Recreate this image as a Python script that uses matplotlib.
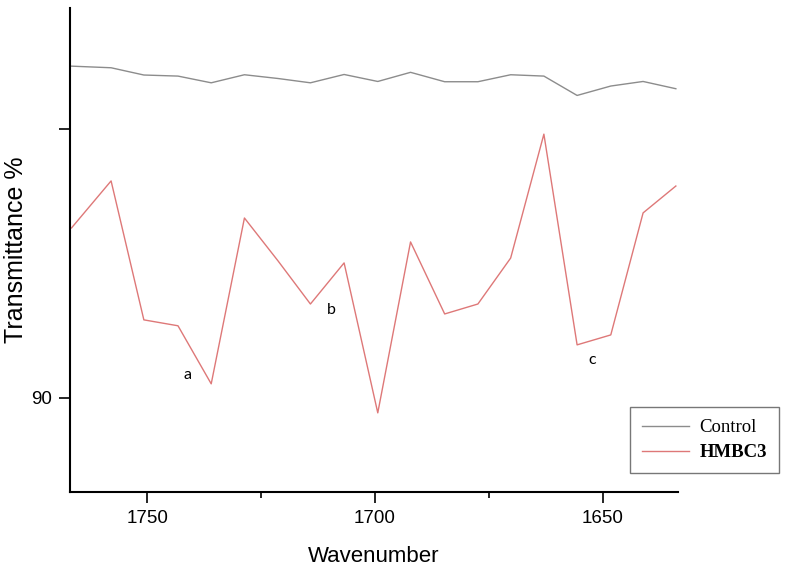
import matplotlib.pyplot as plt

wavenumber = [1766.7, 1758.0, 1750.8, 1743.3, 1736.0, 1728.7, 1721.3, 1714.2, 1706.8, 1699.4,
              1692.2, 1684.7, 1677.4, 1670.2, 1662.9, 1655.6, 1648.2, 1641.1, 1633.9]
control = [102.34, 102.28, 102.01, 101.97, 101.72, 102.02, 101.88, 101.72, 102.03, 101.77,
           102.11, 101.76, 101.76, 102.02, 101.97, 101.25, 101.60, 101.77, 101.50]
hmbc3 = [96.32, 98.07, 92.90, 92.68, 90.52, 96.69, 95.09, 93.49, 95.02, 89.44,
         95.80, 93.12, 93.49, 95.20, 99.81, 91.97, 92.34, 96.88, 97.88]

peak_labels = ['a', 'b', 'c']
peak_x = [1741.2, 1709.6, 1652.2]
peak_y = [90.86, 93.27, 91.41]

fig = plt.figure(figsize=(7.88, 5.78), dpi=100)
ax = fig.add_axes([0.089, 0.149, 0.771, 0.837])

l1, = ax.plot(wavenumber, control, color='#8c8c8c', lw=1.0)
l2, = ax.plot(wavenumber, hmbc3, color='#de7878', lw=1.0)

for lab, x, y in zip(peak_labels, peak_x, peak_y):
    ax.text(x, y, lab, fontsize=11.5, family='Lato', ha='center', va='center')

ax.set_xlim(1767, 1633.5)
ax.set_ylim(86.5, 104.5)
ax.set_xticks([1750, 1700, 1650])
ax.set_xticks([1725, 1675], minor=True)
ax.set_yticks([90, 100])
ax.set_yticklabels(['90', ''])

for side in ['top', 'right']:
    ax.spines[side].set_visible(False)
for side in ['left', 'bottom']:
    ax.spines[side].set_linewidth(1.5)

ax.tick_params(which='major', direction='out', length=8, width=1.2,
               labelsize=13.5, pad=5)
ax.tick_params(which='minor', direction='out', length=4, width=1.2)
for t in ax.get_xticklabels() + ax.get_yticklabels():
    t.set_family('Liberation Sans')

ax.set_xlabel('Wavenumber', fontsize=16, family='Liberation Sans', labelpad=14)
ax.set_ylabel('Transmittance %', fontsize=18, family='Liberation Sans', labelpad=2)

leg = fig.legend([l1, l2], ['Control', 'HMBC3'], loc='upper left',
                 bbox_to_anchor=(0.7995, 0.296), borderaxespad=0, frameon=True,
                 fancybox=False, edgecolor='#555555', handlelength=2.5,
                 handletextpad=0.55, labelspacing=0.42, borderpad=0.65,
                 prop={'family': 'Liberation Serif', 'size': 13.5})
leg.get_frame().set_linewidth(1.0)
leg.get_texts()[1].set_fontweight('bold')

fig.savefig('out.png', dpi=100)
